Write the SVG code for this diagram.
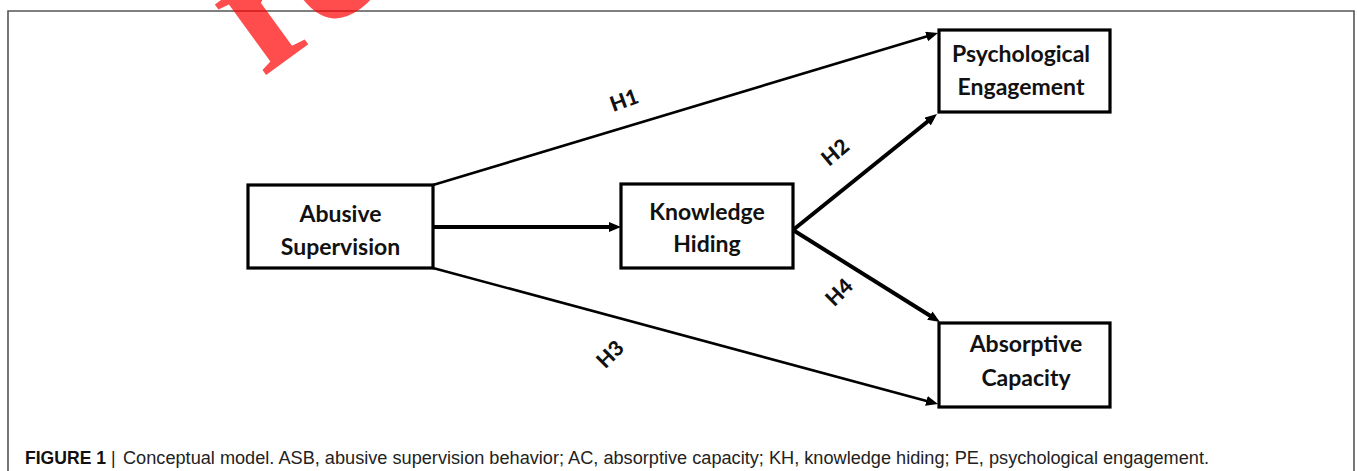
<svg xmlns="http://www.w3.org/2000/svg" width="1357" height="471" viewBox="0 0 1357 471">
<style>
.box{fill:#fff;stroke:#000;stroke-width:3.2}
.lbl{font-family:Lato,"Open Sans","Liberation Sans",sans-serif;font-weight:bold;font-size:23px;fill:#111;text-anchor:middle}
.h{font-family:Lato,"Open Sans","Liberation Sans",sans-serif;font-weight:900;font-size:21px;fill:#111;text-anchor:middle}
.thin{stroke:#000;stroke-width:2.6;fill:none;marker-end:url(#arr)}
.thick{stroke:#000;stroke-width:4;fill:none;marker-end:url(#arr)}
.cap{font-family:"Liberation Sans",Arial,sans-serif;font-size:17.5px;fill:#222}
</style>
<defs>
<marker id="arr" markerUnits="userSpaceOnUse" markerWidth="13" markerHeight="11" refX="6" refY="5" orient="auto" viewBox="0 0 13 11">
<path d="M0,0 L12,5 L0,10 z" fill="#000"/>
</marker>
</defs>
<rect width="1357" height="471" fill="#fff"/>
<path d="M8,480 V11 H1354 V480" fill="none" stroke="#555" stroke-width="1.6"/>
<text x="0" y="0" transform="translate(262,78) rotate(-36)" font-family="Liberation Serif,serif" font-weight="bold" font-size="190" letter-spacing="-8" fill="#ff0000" fill-opacity="0.7">re</text>
<g id="connectors">
<line class="thin" x1="433" y1="185" x2="932.3" y2="34.7"/>
<line class="thick" x1="434" y1="227" x2="615" y2="227"/>
<line class="thick" x1="793" y1="230" x2="932.3" y2="117.8"/>
<line class="thick" x1="793" y1="230" x2="934.9" y2="318.8"/>
<line class="thin" x1="433" y1="268" x2="932.2" y2="402.4"/>
<text class="h" dy="0.36em" transform="translate(624,100) rotate(-20)">H1</text>
<text class="h" dy="0.36em" transform="translate(835,152) rotate(-40)">H2</text>
<text class="h" dy="0.36em" transform="translate(839,292) rotate(-45)">H4</text>
<text class="h" dy="0.36em" transform="translate(610,354) rotate(-45)">H3</text>
</g>
<g id="abusive-supervision">
<rect class="box" x="248" y="185" width="185" height="83"/>
<text class="lbl" x="340.5" y="222">Abusive</text>
<text class="lbl" x="340.5" y="255">Supervision</text>
</g>
<g id="knowledge-hiding">
<rect class="box" x="621" y="184" width="172" height="84"/>
<text class="lbl" x="707" y="220">Knowledge</text>
<text class="lbl" x="707" y="252">Hiding</text>
</g>
<g id="psychological-engagement">
<rect class="box" x="939" y="30" width="171" height="82"/>
<text class="lbl" x="1021" y="62">Psychological</text>
<text class="lbl" x="1021" y="95">Engagement</text>
</g>
<g id="absorptive-capacity">
<rect class="box" x="939" y="323" width="171" height="84"/>
<text class="lbl" x="1026" y="352">Absorptive</text>
<text class="lbl" x="1026" y="386">Capacity</text>
</g>
<text class="cap" y="464"><tspan x="25" font-weight="bold" fill="#111" textLength="81" lengthAdjust="spacingAndGlyphs">FIGURE 1</tspan><tspan x="111">|</tspan><tspan x="123" textLength="1086" lengthAdjust="spacingAndGlyphs">Conceptual model. ASB, abusive supervision behavior; AC, absorptive capacity; KH, knowledge hiding; PE, psychological engagement.</tspan></text>
</svg>
